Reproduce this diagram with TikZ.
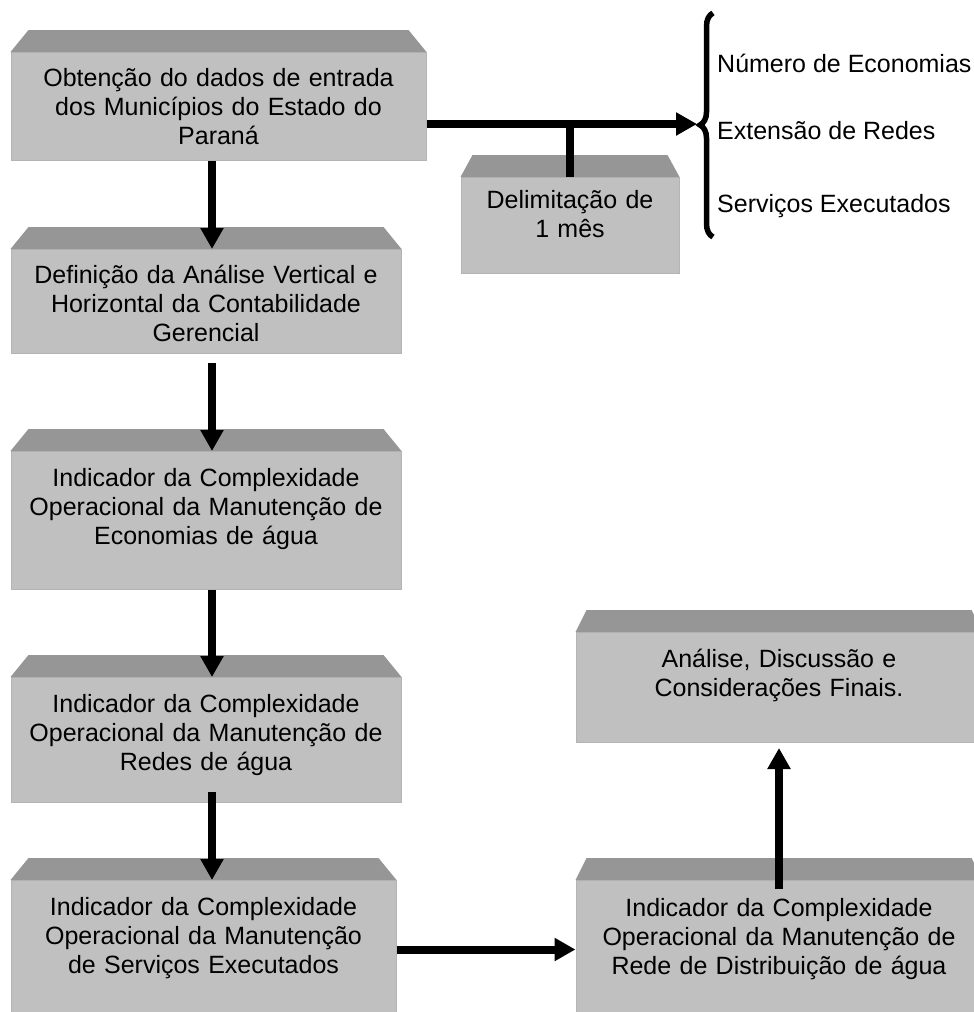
\documentclass[tikz,border=0pt]{standalone}
\usepackage{fontspec}
\setmainfont{Liberation Sans}
\usetikzlibrary{positioning,arrows.meta,decorations.pathreplacing}

\definecolor{face}{RGB}{192,192,192}
\definecolor{bevelgray}{RGB}{150,150,150}
\definecolor{rim}{RGB}{180,180,180}

\tikzset{
	stage/.style={fill=face,draw=rim,line width=1pt,text width=#1,align=center,
		inner sep=0pt,anchor=north,font=\fontsize{25}{29}\selectfont},
	flow/.style={line width=8pt,-{Triangle[width=22pt,length=21pt]}},
	item/.style={anchor=base west,inner sep=0pt,font=\fontsize{25}{29}\selectfont}
}

\begin{document}
\begin{tikzpicture}[x=1pt,y=-1pt]
\useasboundingbox (0,0) rectangle (974,1012);

\node[stage=415pt,text height=34pt,text depth=74pt] (obt) at (218.5,52)
	{Obtenção do dados de entrada\\dos Municípios do Estado do\\Paraná};
\node[stage=390pt,text height=34pt,text depth=70pt] (defn) at (206,249)
	{Definição da Análise Vertical e\\Horizontal da Contabilidade\\Gerencial};
\node[stage=390pt,text height=35pt,text depth=103pt] (econ) at (206,451)
	{Indicador da Complexidade\\Operacional da Manutenção de\\Economias de água};
\node[stage=390pt,text height=35pt,text depth=90pt] (redes) at (206,677)
	{Indicador da Complexidade\\Operacional da Manutenção de\\Redes de água};
\node[stage=385pt,text height=35pt,text depth=103pt] (serv) at (203.5,880)
	{Indicador da Complexidade\\Operacional da Manutenção\\de Serviços Executados};
\node[stage=406pt,text height=36pt,text depth=102pt] (dist) at (779,880)
	{Indicador da Complexidade\\Operacional da Manutenção de\\Rede de Distribuição de água};
\node[stage=406pt,text height=35pt,text depth=75pt] (fin) at (779,632)
	{Análise, Discussão e\\Considerações Finais.};
\node[stage=218pt,text height=31pt,text depth=65pt] (delim) at (570,177)
	{Delimitação de\\1 mês};

\foreach \n/\d in {obt/18,defn/18,econ/18,redes/18,serv/18,dist/11,fin/11,delim/12}
	\fill[bevelgray](\n.north west)--([xshift=\d pt,yshift=22pt]\n.north west)
		--([xshift=-\d pt,yshift=22pt]\n.north east)--(\n.north east)--cycle;

\coordinate (braceTop) at (713,13);
\coordinate (braceBot) at (713,237);
\coordinate (braceTip) at (697,124);
\draw[line width=5.5pt,decorate,decoration={brace,amplitude=13pt}](braceBot)--(braceTop);

\foreach[count=\c] \t/\y in {Número de Economias/72,Extensão de Redes/139,Serviços Executados/212}
	\node[item] (item\c) at (717,\y) {\t};

\draw[flow](obt.east |- braceTip)--(braceTip);
\draw[line width=8pt](delim.north)--(delim.north |- braceTip);

\draw[flow]([xshift=-6.5pt]obt.south)--([xshift=6pt]defn.north);
\draw[flow]([xshift=6pt,yshift=-9pt]defn.south)--([xshift=6pt]econ.north);
\draw[flow]([xshift=6pt]econ.south)--([xshift=6pt]redes.north);
\draw[flow]([xshift=6pt,yshift=11pt]redes.south)--([xshift=8.5pt]serv.north);
\draw[flow](serv.east)--(dist.west);
\draw[flow]([yshift=-9pt]dist.north)--([yshift=-5pt]fin.south);
\end{tikzpicture}
\end{document}
